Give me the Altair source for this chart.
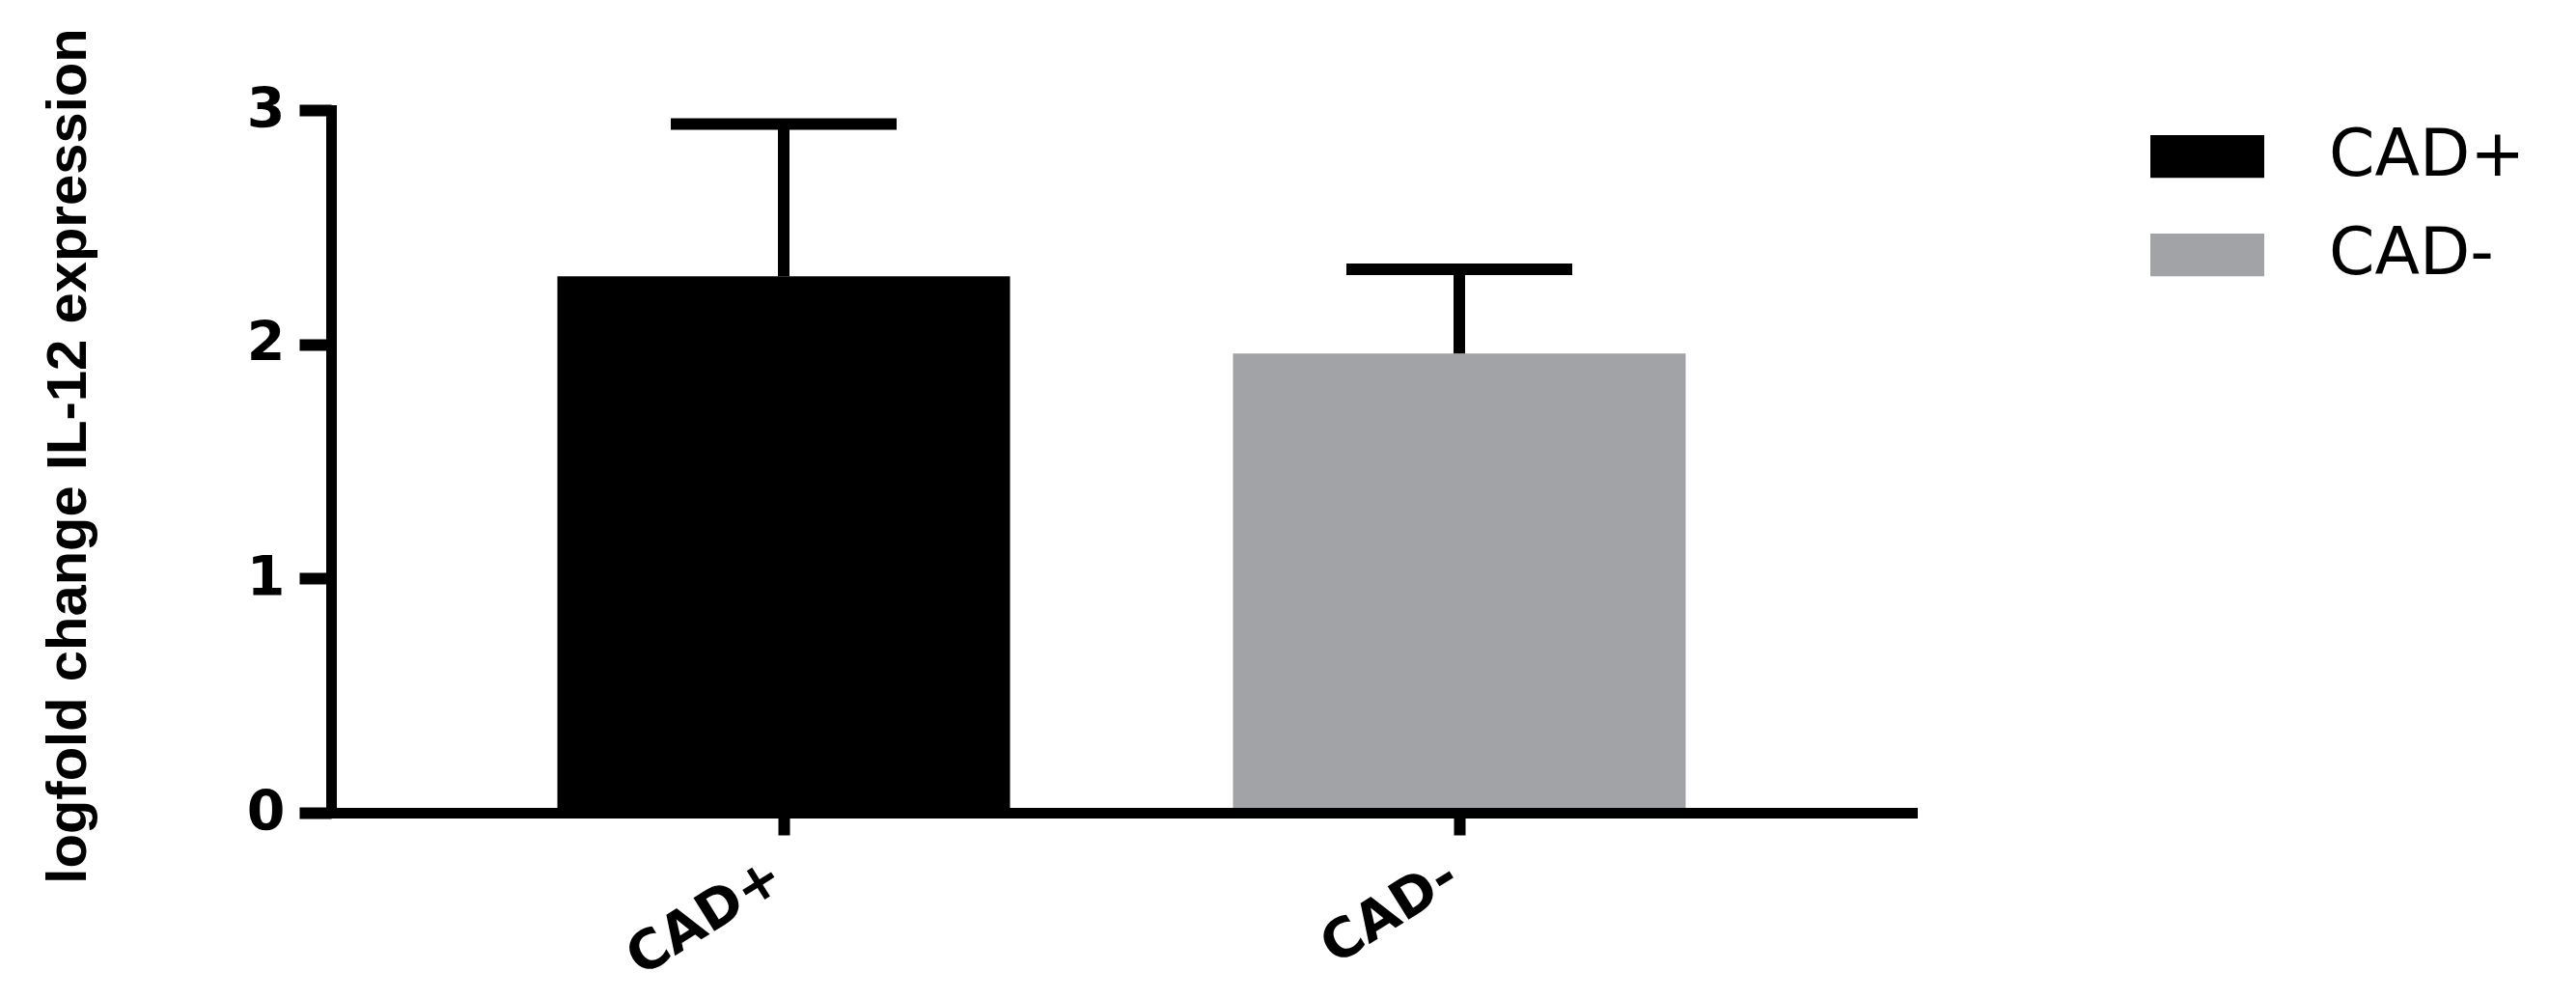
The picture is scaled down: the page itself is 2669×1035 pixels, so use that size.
import altair as alt
import pandas as pd

groups = ["CAD+", "CAD-"]
means = [2.29, 1.96]
sems = [0.65, 0.36]
colors = ["#000000", "#a2a3a7"]
y_ticks = [0, 1, 2, 3]

df = pd.DataFrame({"group": groups, "mean": means, "sem": sems})
df["upper"] = df["mean"] + df["sem"]

FONT = "DejaVu Sans"
x_scale = alt.Scale(domain=groups, paddingInner=0.33, paddingOuter=0.335)

x_enc = alt.X(
    "group:N",
    scale=x_scale,
    axis=alt.Axis(
        title=None, zindex=1,
        domainColor="black", domainWidth=11, domainCap="square",
        tickColor="black", tickWidth=12, tickSize=23,
        labelFont=FONT, labelFontSize=56, labelFontWeight="bold", labelColor="black",
        labelAngle=-32, labelAlign="right", labelBaseline="middle",
        labelPadding=38, labelOffset=-6, grid=False,
    ),
)

y_scale = alt.Scale(domain=[0, 3], nice=False)
y_axis = alt.Axis(
    values=y_ticks, format="d", grid=False, zindex=1,
    domainColor="black", domainWidth=11, domainCap="square",
    tickColor="black", tickWidth=12, tickSize=33,
    labelFont=FONT, labelFontSize=57, labelFontWeight="bold", labelColor="black",
    labelPadding=15,
    title="logfold change IL-12 expression",
    titleFont="Liberation Sans", titleFontSize=58,
    titleFontWeight="bold", titleColor="black",
    titleAngle=270, titleX=-272, titleY=358, titleAlign="center", titleBaseline="middle",
)

bars = alt.Chart(df).mark_bar().encode(
    x=x_enc,
    y=alt.Y("mean:Q", scale=y_scale, axis=y_axis),
    color=alt.Color(
        "group:N",
        scale=alt.Scale(domain=groups, range=colors),
        legend=alt.Legend(
            title=None, orient="none", legendX=1907, legendY=11,
            symbolType="M-1.6,-0.6L1.6,-0.6L1.6,0.6L-1.6,0.6Z",
            symbolSize=5439, symbolStrokeWidth=0,
            labelFont=FONT, labelFontSize=68, labelColor="black", labelLimit=0,
            labelOffset=89, rowPadding=31, padding=0,
        ),
    ),
)

stems = alt.Chart(df).mark_rule(color="black", strokeWidth=12).encode(
    x=alt.X("group:N", scale=x_scale),
    y=alt.Y("mean:Q", scale=y_scale),
    y2="upper:Q",
)

caps = alt.Chart(df).mark_tick(color="black", size=234, thickness=12, opacity=1).encode(
    x=alt.X("group:N", scale=x_scale),
    y=alt.Y("upper:Q", scale=y_scale),
)

chart = alt.layer(bars, stems, caps).properties(
    width=1638, height=728,
    background="white",
    autosize=alt.AutoSizeParams(type="none"),
    padding={"left": 335, "top": 106, "right": 680, "bottom": 184},
).configure_view(stroke=None)

chart.save("out.html", embed_options={"renderer": "svg", "actions": False})
